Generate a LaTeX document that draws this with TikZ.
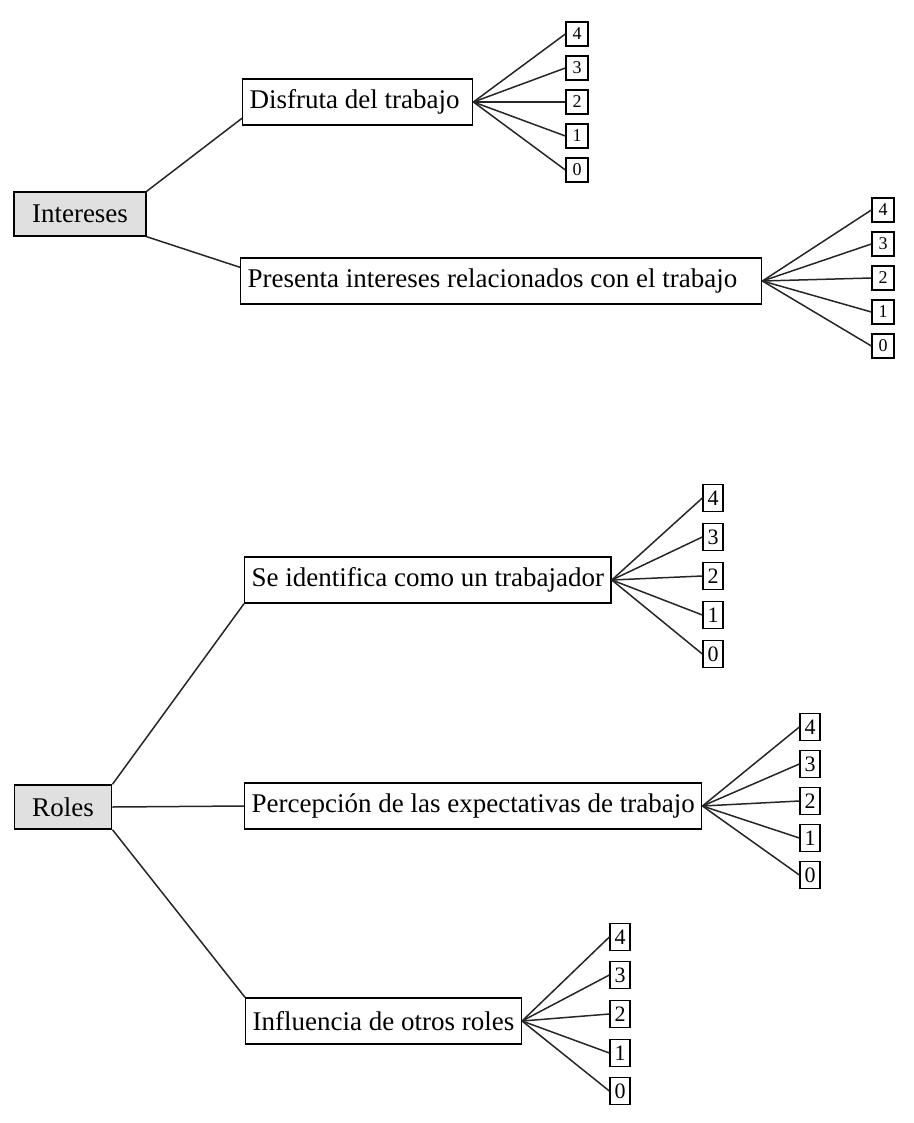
\documentclass[tikz,border=0pt]{standalone}
\usepackage{fontspec}
\setmainfont{Liberation Serif}
\tikzset{
  categoria/.style={draw, line width=1.4pt, fill=black!12, inner xsep=18pt, minimum height=44pt, font=\fontsize{27}{32}\selectfont},
  aspecto/.style={draw, line width=1.4pt, fill=white, inner xsep=7pt, minimum height=46pt, anchor=west, font=\fontsize{27}{32}\selectfont},
  puntaje/.style={draw, line width=1.3pt, fill=white, inner sep=0pt, minimum width=20pt, minimum height=27pt, font=\fontsize{22}{22}\selectfont},
  puntajechico/.style={puntaje, minimum width=22pt, minimum height=24pt, font=\fontsize{18}{18}\selectfont},
  rama/.style={line width=1.5pt, black!85}
}
\begin{document}
\begin{tikzpicture}[x=1pt, y=-1pt]
\useasboundingbox (0,0) rectangle (913,1123);
% Intereses
\node[categoria] (int) at (80,214) {Intereses};
\node[aspecto] (dis) at (242,102) {\makebox[216pt][l]{Disfruta del trabajo}};
\node[aspecto] (pre) at (240,281) {\makebox[507pt][l]{Presenta intereses relacionados con el trabajo}};
\draw[rama] (int.north east) -- (dis.188);
\draw[rama] (int.south east) -- (pre.177);
\foreach \n/\y in {4/34,3/68,2/102,1/136,0/170}{
  \node[puntajechico] (dis\n) at (577,\y) {\n};
  \draw[rama] (dis.east) -- (dis\n.west);
}
\foreach \n/\y in {4/210,3/244,2/278,1/312,0/346}{
  \node[puntajechico] (pre\n) at (883,\y) {\n};
  \draw[rama] (pre.east) -- (pre\n.west);
}
% Roles
\node[categoria] (rol) at (63,807) {Roles};
\node[aspecto] (ide) at (244,580) {Se identifica como un trabajador};
\node[aspecto] (per) at (244,806) {Percepción de las expectativas de trabajo};
\node[aspecto] (inf) at (245,1021) {Influencia de otros roles};
\draw[rama] (rol.north east) -- (ide.south west);
\draw[rama] (rol.east) -- (per.west);
\draw[rama] (rol.south east) -- (inf.north west);
\foreach \n/\y in {4/498,3/537,2/576,1/615,0/654}{
  \node[puntaje] (ide\n) at (713,\y) {\n};
  \draw[rama] (ide.east) -- (ide\n.west);
}
\foreach \n/\y in {4/727,3/764,2/801,1/838,0/875}{
  \node[puntaje] (per\n) at (810,\y) {\n};
  \draw[rama] (per.east) -- (per\n.west);
}
\foreach \n/\y in {4/937,3/975,2/1014,1/1053,0/1091}{
  \node[puntaje] (inf\n) at (620,\y) {\n};
  \draw[rama] (inf.east) -- (inf\n.west);
}
\end{tikzpicture}
\end{document}
